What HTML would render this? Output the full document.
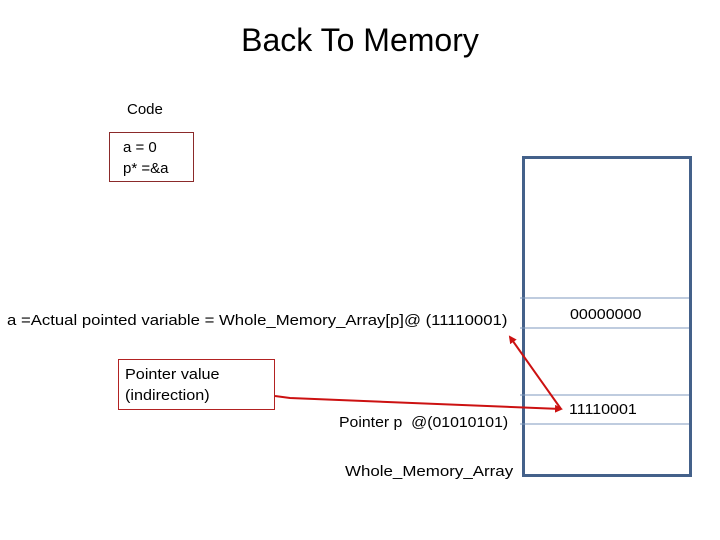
<!DOCTYPE html>
<html><head><style>
body{margin:0;width:720px;height:540px;background:#fff;position:relative;font-family:"Liberation Sans",sans-serif;overflow:hidden}
.t{position:absolute;white-space:nowrap;color:#000;transform-origin:0 0}
</style></head><body>
<div class="t" style="left:0;width:720px;text-align:center;top:22px;font-size:32px">Back To Memory</div>
<div class="t" style="left:127px;top:101px;font-size:15px">Code</div>
<div style="position:absolute;left:109px;top:132px;width:83px;height:48px;border:1px solid #8b2a2a"></div>
<div class="t" style="left:123px;top:137px;font-size:15px;line-height:21px">a = 0<br>p* =&amp;a</div>
<div class="t" style="left:7px;top:312px;font-size:15px;transform:scaleX(1.115)">a =Actual pointed variable = Whole_Memory_Array[p]@ (11110001)</div>
<div style="position:absolute;left:118px;top:359px;width:155px;height:49px;border:1px solid #b22222"></div>
<div class="t" style="left:125px;top:364px;font-size:15px;line-height:21px;transform:scaleX(1.08)">Pointer value<br>(indirection)</div>
<div class="t" style="left:339px;top:414px;font-size:15px;transform:scaleX(1.055)">Pointer p&nbsp; @(01010101)</div>
<div class="t" style="left:345px;top:463px;font-size:15px;transform:scaleX(1.127)">Whole_Memory_Array</div>
<div style="position:absolute;left:522px;top:156px;width:164px;height:315px;border:3px solid #44618a"></div>
<svg width="720" height="540" style="position:absolute;left:0;top:0">
<g stroke="#7f9abf" stroke-width="1">
<line x1="520" y1="298" x2="689" y2="298"/><line x1="520" y1="328" x2="689" y2="328"/>
<line x1="520" y1="395" x2="689" y2="395"/><line x1="520" y1="424" x2="689" y2="424"/>
</g>
<defs><marker id="a" markerWidth="8" markerHeight="8" refX="6" refY="4" orient="auto" markerUnits="userSpaceOnUse"><path d="M0,0 L8,4 L0,8z" fill="#cc1111"/></marker></defs>
<line x1="561" y1="409" x2="510" y2="337" stroke="#cc1111" stroke-width="2" marker-end="url(#a)"/>
<path d="M275,396 L290,398 L561,409" fill="none" stroke="#cc1111" stroke-width="2" marker-end="url(#a)"/>
</svg>
<div class="t" style="left:570px;top:306px;font-size:15px;transform:scaleX(1.07)">00000000</div>
<div class="t" style="left:569px;top:401px;font-size:15px;transform:scaleX(1.07)">11110001</div>
</body></html>
